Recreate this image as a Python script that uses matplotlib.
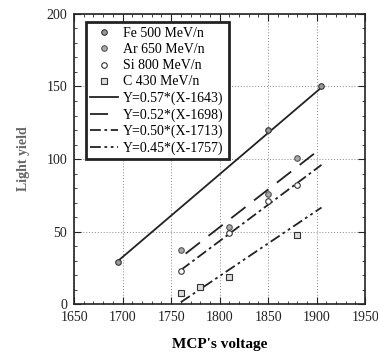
import numpy as np
import matplotlib.pyplot as plt
from matplotlib.ticker import MultipleLocator

plt.rcParams['font.family'] = ['Liberation Serif', 'DejaVu Serif']

# measured points
fe_x = [1695, 1850, 1905]
fe_y = [29, 120, 150]
ar_x = [1760, 1810, 1850, 1880]
ar_y = [37, 53, 76, 101]
si_x = [1760, 1810, 1850, 1880]
si_y = [23, 49, 71, 82]
c_x = [1760, 1780, 1810, 1880]
c_y = [8, 12, 19, 48]

# linear fits: Y = slope * (X - offset)
fit_slopes = [0.57, 0.52, 0.50, 0.45]
fit_offsets = [1643, 1698, 1713, 1757]
fit_ranges = [(1695, 1905), (1765, 1905), (1760, 1905), (1760, 1905)]
fit_styles = ['-', (0, (10, 6)), (0, (6, 2, 1.5, 2)), (0, (6, 2, 1.5, 2, 1.5, 2))]

fig = plt.figure(figsize=(3.78, 3.57), dpi=100)
ax = fig.add_axes([0.196, 0.148, 0.770, 0.813])

ax.plot(fe_x, fe_y, 'o', ms=4, mfc='#999999', mec='#333333', mew=0.8,
        label='Fe 500 MeV/n', zorder=4)
ax.plot(ar_x, ar_y, 'o', ms=4, mfc='#aaaaaa', mec='#555555', mew=0.8,
        label='Ar 650 MeV/n', zorder=4)
ax.plot(si_x, si_y, 'o', ms=4, mfc='white', mec='#333333', mew=0.8,
        label='Si 800 MeV/n', zorder=4)
ax.plot(c_x, c_y, 's', ms=4, mfc='#dddddd', mec='#333333', mew=0.8,
        label='C 430 MeV/n', zorder=4)

for k, off, rng, ls in zip(fit_slopes, fit_offsets, fit_ranges, fit_styles):
    xs = np.array(rng)
    ax.plot(xs, k * (xs - off), color='#222222', lw=1.3, linestyle=ls,
            label=f'Y={k:.2f}*(X-{off})')

ax.set_xlim(1650, 1950)
ax.set_ylim(0, 200)
ax.xaxis.set_major_locator(MultipleLocator(50))
ax.xaxis.set_minor_locator(MultipleLocator(10))
ax.yaxis.set_major_locator(MultipleLocator(50))
ax.yaxis.set_minor_locator(MultipleLocator(10))
ax.tick_params(which='both', direction='in', top=True, right=True,
               labelsize=10, colors='#222222')
ax.tick_params(axis='y', pad=5)
ax.tick_params(axis='x', pad=5)
ax.tick_params(which='major', length=5)
ax.tick_params(which='minor', length=2.5)
ax.grid(True, which='major', linestyle=(0, (1, 2)), color='#888888', lw=0.7)
for s in ax.spines.values():
    s.set_linewidth(1.2)
    s.set_color('#222222')

ax.set_xlabel("MCP's voltage", fontsize=11, fontweight='bold', labelpad=10)
ax.set_ylabel('Light yield', fontsize=10, fontweight='bold', color='#666666',
              labelpad=12)

leg = ax.legend(loc='upper left', fontsize=10, handlelength=2.0,
                handletextpad=0.35, labelspacing=0.22, borderpad=0.35,
                borderaxespad=0.3, fancybox=False, frameon=True,
                bbox_to_anchor=(0.025, 0.985))
leg.get_frame().set_edgecolor('#222222')
leg.get_frame().set_linewidth(2.0)
leg.get_frame().set_alpha(1)

fig.savefig('out.png', dpi=100)
